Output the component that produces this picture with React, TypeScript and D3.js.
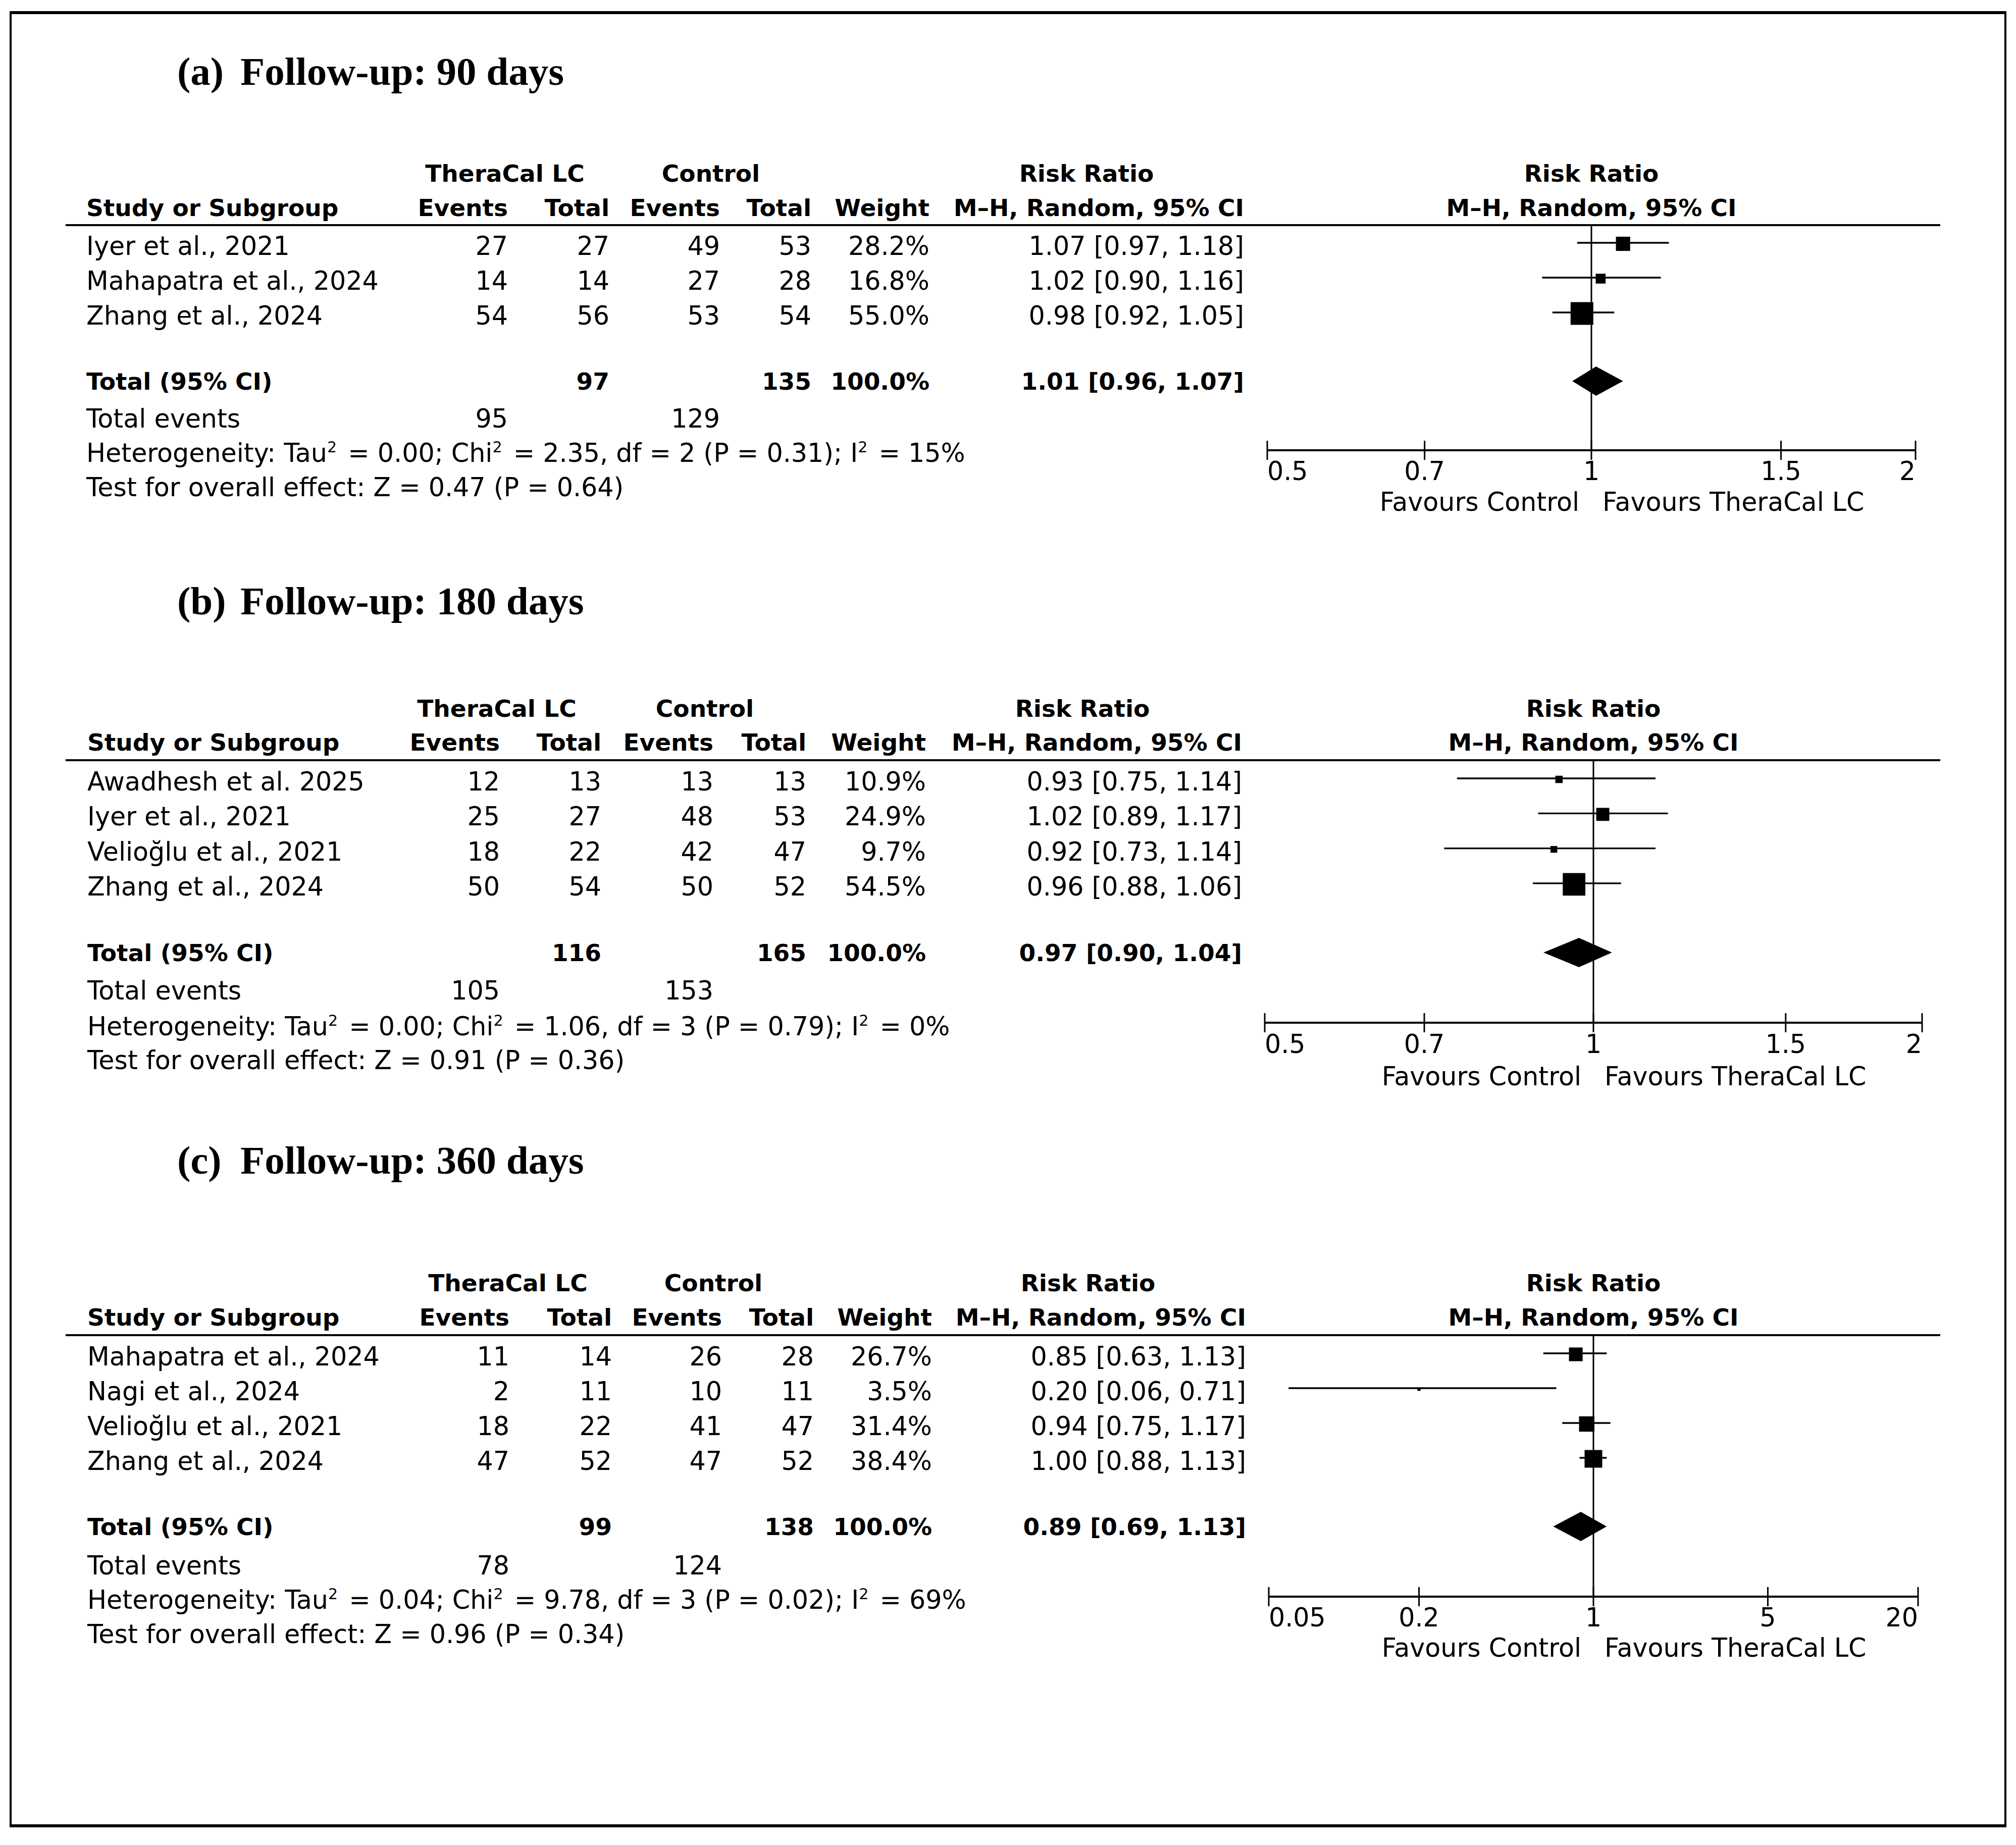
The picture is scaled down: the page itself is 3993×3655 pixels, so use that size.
import { scaleLog, scalePow } from "d3";

const WIDTH = 3993;
const HEIGHT = 3655;
const SANS = "'DejaVu Sans', Verdana, sans-serif";
const SERIF = "'Liberation Serif', 'Times New Roman', serif";

// (a) follow-up 90 days
const studiesA = ["Iyer et al., 2021", "Mahapatra et al., 2024", "Zhang et al., 2024"];
const thEventsA = [27, 14, 54];
const thTotalA = [27, 14, 56];
const ctEventsA = [49, 27, 53];
const ctTotalA = [53, 28, 54];
const weightA = [28.2, 16.8, 55.0];
const rrA = [1.07, 1.02, 0.98];
const loA = [0.97, 0.9, 0.92];
const hiA = [1.18, 1.16, 1.05];
const totalA = { thTotal: 97, ctTotal: 135, rr: 1.01, lo: 0.96, hi: 1.07, thEvents: 95, ctEvents: 129 };
const hetA = { tau2: "0.00", chi2: "2.35", df: 2, p: "0.31", i2: 15, z: "0.47", pz: "0.64" };
const ticksA = [0.5, 0.7, 1, 1.5, 2];

// (b) follow-up 180 days
const studiesB = ["Awadhesh et al. 2025", "Iyer et al., 2021", "Velioğlu et al., 2021", "Zhang et al., 2024"];
const thEventsB = [12, 25, 18, 50];
const thTotalB = [13, 27, 22, 54];
const ctEventsB = [13, 48, 42, 50];
const ctTotalB = [13, 53, 47, 52];
const weightB = [10.9, 24.9, 9.7, 54.5];
const rrB = [0.93, 1.02, 0.92, 0.96];
const loB = [0.75, 0.89, 0.73, 0.88];
const hiB = [1.14, 1.17, 1.14, 1.06];
const totalB = { thTotal: 116, ctTotal: 165, rr: 0.97, lo: 0.9, hi: 1.04, thEvents: 105, ctEvents: 153 };
const hetB = { tau2: "0.00", chi2: "1.06", df: 3, p: "0.79", i2: 0, z: "0.91", pz: "0.36" };
const ticksB = [0.5, 0.7, 1, 1.5, 2];

// (c) follow-up 360 days
const studiesC = ["Mahapatra et al., 2024", "Nagi et al., 2024", "Velioğlu et al., 2021", "Zhang et al., 2024"];
const thEventsC = [11, 2, 18, 47];
const thTotalC = [14, 11, 22, 52];
const ctEventsC = [26, 10, 41, 47];
const ctTotalC = [28, 11, 47, 52];
const weightC = [26.7, 3.5, 31.4, 38.4];
const rrC = [0.85, 0.2, 0.94, 1.0];
const loC = [0.63, 0.06, 0.75, 0.88];
const hiC = [1.13, 0.71, 1.17, 1.13];
const totalC = { thTotal: 99, ctTotal: 138, rr: 0.89, lo: 0.69, hi: 1.13, thEvents: 78, ctEvents: 124 };
const hetC = { tau2: "0.04", chi2: "9.78", df: 3, p: "0.02", i2: 69, z: "0.96", pz: "0.34" };
const ticksC = [0.05, 0.2, 1, 5, 20];

const layoutA = {
  title: 168, hdr1: 360, hdr2: 428, rule: 446, row0: 505, pitch: 69, total: 772, events: 847, het: 915, test: 983,
  axisY: 892, tickY: 951, favY: 1012, axisX: [2510, 3794],
  study: 171, thEv: 1006, thTot: 1207, ctEv: 1426, ctTot: 1607, weight: 1841, rr: 2464, thHead: 1000, ctHead: 1408, rrHead: 2152
};
const layoutB = {
  title: 1217, hdr1: 1420, hdr2: 1487, rule: 1506, row0: 1566, pitch: 69.3, total: 1904, events: 1980, het: 2051, test: 2118,
  axisY: 2026, tickY: 2086, favY: 2150, axisX: [2505, 3807],
  study: 173, thEv: 990, thTot: 1191, ctEv: 1413, ctTot: 1597, weight: 1834, rr: 2460, thHead: 984, ctHead: 1396, rrHead: 2144
};
const layoutC = {
  title: 2325, hdr1: 2558, hdr2: 2626, rule: 2645, row0: 2705, pitch: 69, total: 3041, events: 3119, het: 3187, test: 3255,
  axisY: 3163, tickY: 3222, favY: 3282, axisX: [2513, 3799],
  study: 173, thEv: 1009, thTot: 1212, ctEv: 1430, ctTot: 1612, weight: 1846, rr: 2468, thHead: 1006, ctHead: 1413, rrHead: 2155
};

const boxSize = scalePow().exponent(0.7).domain([0, 55]).range([0, 45]);
const fmt = (v) => v.toFixed(2);
const ci = (rr, lo, hi) => `${fmt(rr)} [${fmt(lo)}, ${fmt(hi)}]`;

function HetText({ x, y, het, style }) {
  const sup = (k) => <tspan key={k} dy={-19} fontSize={30}>2</tspan>;
  return (
    <text x={x} y={y} {...style}>
      {"Heterogeneity: Tau"}
      {sup("s1")}
      <tspan dy={19} dx={6}>{` = ${het.tau2}; Chi`}</tspan>
      {sup("s2")}
      <tspan dy={19} dx={6}>{` = ${het.chi2}, df = ${het.df} (P = ${het.p}); I`}</tspan>
      {sup("s3")}
      <tspan dy={19} dx={6}>{` = ${het.i2}%`}</tspan>
    </text>
  );
}

function Panel({ tag, title, studies, thEvents, thTotal, ctEvents, ctTotal, weight, rr, lo, hi, total, het, ticks, L }) {
  const x = scaleLog().domain([ticks[0], ticks[ticks.length - 1]]).range(L.axisX);
  const center = x(1);
  const rowY = (i) => L.row0 + i * L.pitch;
  const bold = { fontFamily: SANS, fontWeight: 700, fontSize: 47 };
  const reg = { fontFamily: SANS, fontSize: 50.7 };

  return (
    <g>
      <text x={351} y={L.title} fontFamily={SERIF} fontWeight={700} fontSize={79}>{tag}</text>
      <text x={476} y={L.title} fontFamily={SERIF} fontWeight={700} fontSize={79}>{title}</text>

      {/* column headers */}
      <g {...bold}>
        <text x={L.thHead} y={L.hdr1} textAnchor="middle">TheraCal LC</text>
        <text x={L.ctHead} y={L.hdr1} textAnchor="middle">Control</text>
        <text x={L.rrHead} y={L.hdr1} textAnchor="middle">Risk Ratio</text>
        <text x={center} y={L.hdr1} textAnchor="middle">Risk Ratio</text>
        <text x={L.study} y={L.hdr2}>Study or Subgroup</text>
        <text x={L.thEv} y={L.hdr2} textAnchor="end">Events</text>
        <text x={L.thTot} y={L.hdr2} textAnchor="end">Total</text>
        <text x={L.ctEv} y={L.hdr2} textAnchor="end">Events</text>
        <text x={L.ctTot} y={L.hdr2} textAnchor="end">Total</text>
        <text x={L.weight} y={L.hdr2} textAnchor="end">Weight</text>
        <text x={L.rr} y={L.hdr2} textAnchor="end">M–H, Random, 95% CI</text>
        <text x={center} y={L.hdr2} textAnchor="middle">M–H, Random, 95% CI</text>
      </g>
      <line x1={130} x2={3843} y1={L.rule} y2={L.rule} stroke="#000" strokeWidth={4} />

      {/* study rows */}
      <g {...reg}>
        {studies.map((s, i) => (
          <g key={s}>
            <text x={L.study} y={rowY(i)}>{s}</text>
            <text x={L.thEv} y={rowY(i)} textAnchor="end">{thEvents[i]}</text>
            <text x={L.thTot} y={rowY(i)} textAnchor="end">{thTotal[i]}</text>
            <text x={L.ctEv} y={rowY(i)} textAnchor="end">{ctEvents[i]}</text>
            <text x={L.ctTot} y={rowY(i)} textAnchor="end">{ctTotal[i]}</text>
            <text x={L.weight} y={rowY(i)} textAnchor="end">{`${weight[i].toFixed(1)}%`}</text>
            <text x={L.rr} y={rowY(i)} textAnchor="end">{ci(rr[i], lo[i], hi[i])}</text>
          </g>
        ))}
      </g>

      {/* total row */}
      <g {...bold}>
        <text x={L.study} y={L.total}>Total (95% CI)</text>
        <text x={L.thTot} y={L.total} textAnchor="end">{total.thTotal}</text>
        <text x={L.ctTot} y={L.total} textAnchor="end">{total.ctTotal}</text>
        <text x={L.weight} y={L.total} textAnchor="end">100.0%</text>
        <text x={L.rr} y={L.total} textAnchor="end">{ci(total.rr, total.lo, total.hi)}</text>
      </g>
      <text x={L.study} y={L.events} {...reg}>Total events</text>
      <text x={L.thEv} y={L.events} textAnchor="end" {...reg}>{total.thEvents}</text>
      <text x={L.ctEv} y={L.events} textAnchor="end" {...reg}>{total.ctEvents}</text>
      <HetText x={L.study} y={L.het} het={het} style={reg} />
      <text x={L.study} y={L.test} {...reg}>{`Test for overall effect: Z = ${het.z} (P = ${het.pz})`}</text>

      {/* forest plot */}
      <line x1={center} x2={center} y1={L.rule} y2={L.axisY} stroke="#000" strokeWidth={3} />
      {studies.map((s, i) => {
        const cy = rowY(i) - 24;
        const size = boxSize(weight[i]);
        return (
          <g key={s}>
            <line x1={x(lo[i])} x2={x(hi[i])} y1={cy} y2={cy} stroke="#000" strokeWidth={3.3} />
            <rect x={x(rr[i]) - size / 2} y={cy + 2 - size / 2} width={size} height={size} fill="#000" />
          </g>
        );
      })}
      <path
        d={`M${x(total.lo)},${L.total - 17} L${x(total.rr)},${L.total - 46} L${x(total.hi)},${L.total - 17} L${x(total.rr)},${L.total + 12} Z`}
        fill="#000"
      />

      {/* axis */}
      <line x1={L.axisX[0]} x2={L.axisX[1]} y1={L.axisY} y2={L.axisY} stroke="#000" strokeWidth={4} />
      {ticks.map((t, i) => (
        <g key={t}>
          <line x1={x(t)} x2={x(t)} y1={L.axisY - 19} y2={L.axisY + 19} stroke="#000" strokeWidth={3} />
          <text
            x={x(t)}
            y={L.tickY}
            textAnchor={i === 0 ? "start" : i === ticks.length - 1 ? "end" : "middle"}
            {...reg}
          >
            {String(t)}
          </text>
        </g>
      ))}
      <text x={center - 24} y={L.favY} textAnchor="end" {...reg}>Favours Control</text>
      <text x={center + 22} y={L.favY} {...reg}>Favours TheraCal LC</text>
    </g>
  );
}

export default function App() {
  return (
    <svg
      width={WIDTH}
      height={HEIGHT}
      viewBox={`0 0 ${WIDTH} ${HEIGHT}`}
      style={{ position: "absolute", left: 0, top: 0, background: "#fff" }}
    >
      <rect x={0} y={0} width={WIDTH} height={HEIGHT} fill="#fff" />
      <rect x={21} y={26} width={3951} height={3590} fill="none" stroke="#000" strokeWidth={4} />
      <line x1={19} x2={3974} y1={25} y2={25} stroke="#000" strokeWidth={6} />
      <line x1={19} x2={3974} y1={3617} y2={3617} stroke="#000" strokeWidth={6} />
      <Panel tag="(a)" title="Follow-up: 90 days" studies={studiesA} thEvents={thEventsA} thTotal={thTotalA}
        ctEvents={ctEventsA} ctTotal={ctTotalA} weight={weightA} rr={rrA} lo={loA} hi={hiA}
        total={totalA} het={hetA} ticks={ticksA} L={layoutA} />
      <Panel tag="(b)" title="Follow-up: 180 days" studies={studiesB} thEvents={thEventsB} thTotal={thTotalB}
        ctEvents={ctEventsB} ctTotal={ctTotalB} weight={weightB} rr={rrB} lo={loB} hi={hiB}
        total={totalB} het={hetB} ticks={ticksB} L={layoutB} />
      <Panel tag="(c)" title="Follow-up: 360 days" studies={studiesC} thEvents={thEventsC} thTotal={thTotalC}
        ctEvents={ctEventsC} ctTotal={ctTotalC} weight={weightC} rr={rrC} lo={loC} hi={hiC}
        total={totalC} het={hetC} ticks={ticksC} L={layoutC} />
    </svg>
  );
}
